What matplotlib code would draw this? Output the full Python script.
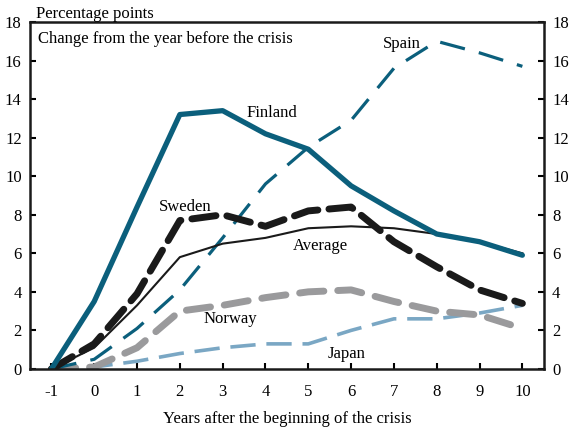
import matplotlib
matplotlib.use('Agg')
import matplotlib.pyplot as plt

plt.rcParams['font.family'] = ['Liberation Serif', 'DejaVu Serif']
plt.rcParams['axes.unicode_minus'] = False

years = [-1, 0, 1, 2, 3, 4, 5, 6, 7, 8, 9, 10]
finland = [0, 3.5, 8.4, 13.2, 13.4, 12.2, 11.4, 9.5, 8.2, 7.0, 6.6, 5.9]
spain = [0, 0.5, 2.1, 4.1, 6.8, 9.6, 11.5, 12.9, 15.6, 17.0, 16.4, 15.7]
sweden = [0, 1.3, 3.9, 7.7, 8.0, 7.4, 8.2, 8.4, 6.6, 5.3, 4.1, 3.4]
average = [0, 1.1, 3.3, 5.8, 6.5, 6.8, 7.3, 7.4, 7.3, 7.0, 6.6, 6.0]
norway = [0, 0.1, 1.1, 3.0, 3.3, 3.7, 4.0, 4.1, 3.5, 3.0, 2.8, 2.1]
japan = [0, 0.1, 0.4, 0.8, 1.1, 1.3, 1.3, 2.0, 2.6, 2.6, 2.9, 3.3]

teal = '#0b5f7c'

fig = plt.figure(figsize=(5.7, 4.29), dpi=100)
ax = fig.add_axes([0.0526, 0.14, 0.9014, 0.8087])

ax.plot(years, japan, color='#7aa7c4', lw=2.6, dashes=(7, 3))
ax.plot(years, norway, color='#9a9a9c', lw=5, dashes=(3.5, 2), dash_capstyle='round')
ax.plot(years, spain, color=teal, lw=2.3, dashes=(8, 4.5))
ax.plot(years, average, color='#1a1a1a', lw=1.5)
ax.plot(years, sweden, color='#1a1a1a', lw=5, dashes=(3.5, 1.6), dash_capstyle='round')
ax.plot(years, finland, color=teal, lw=3.8, solid_capstyle='round')

ax.set_xlim(-1.5, 10.5)
ax.set_ylim(0, 18)
ax.set_xticks(years)
ax.set_yticks(range(0, 19, 2))
ax.tick_params(axis='both', direction='in', labelsize=12, length=4, width=1.5)
ax.tick_params(axis='y', right=True, labelright=True, pad=6)
ax.tick_params(axis='x', pad=11)
for s in ax.spines.values():
    s.set_linewidth(1.8)
    s.set_color('#1a1a1a')

ax.text(0.015, 0.975, 'Change from the year before the crisis', transform=ax.transAxes,
        fontsize=12, va='top', ha='left')
fig.text(0.063, 0.985, 'Percentage points', fontsize=12, va='top', ha='left')
ax.set_xlabel('Years after the beginning of the crisis', fontsize=12, labelpad=8)

ax.text(3.55, 13.3, 'Finland', fontsize=12, ha='left', va='center')
ax.text(6.75, 16.85, 'Spain', fontsize=12, ha='left', va='center')
ax.text(1.5, 8.4, 'Sweden', fontsize=12, ha='left', va='center')
ax.text(4.65, 6.4, 'Average', fontsize=12, ha='left', va='center')
ax.text(2.55, 2.6, 'Norway', fontsize=12, ha='left', va='center')
ax.text(5.45, 0.8, 'Japan', fontsize=12, ha='left', va='center')

fig.savefig('out.png', dpi=100)
